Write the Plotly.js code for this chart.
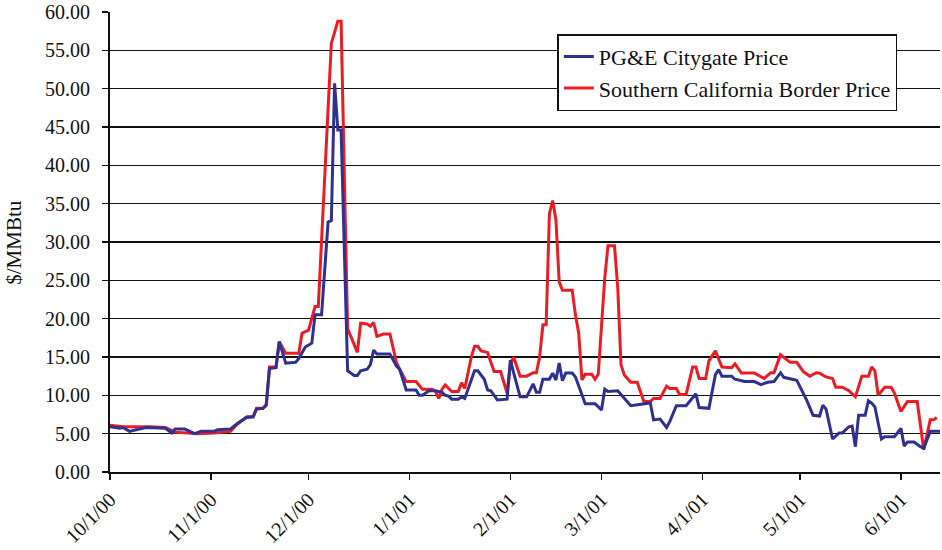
<!DOCTYPE html>
<html>
<head>
<meta charset="utf-8">
<script src="https://cdn.plot.ly/plotly-3.0.1.min.js"></script>
<style>html,body{margin:0;padding:0;background:#fff;}#chart{width:942px;height:550px;}</style>
</head>
<body>
<div id="chart"></div>
<script>
// PG&E Citygate Price ($/MMBtu)
var pgeDates = ['2000-10-01','2000-10-04','2000-10-05','2000-10-07','2000-10-09','2000-10-12','2000-10-18','2000-10-20','2000-10-21','2000-10-24','2000-10-27','2000-10-29','2000-11-02','2000-11-03','2000-11-07','2000-11-09','2000-11-12','2000-11-14','2000-11-15','2000-11-17','2000-11-18','2000-11-19','2000-11-21','2000-11-22','2000-11-24','2000-11-27','2000-11-28','2000-11-30','2000-12-02','2000-12-03','2000-12-05','2000-12-07','2000-12-08','2000-12-09','2000-12-10','2000-12-11','2000-12-13','2000-12-15','2000-12-16','2000-12-17','2000-12-19','2000-12-20','2000-12-21','2000-12-22','2000-12-26','2000-12-28','2000-12-29','2000-12-31','2001-01-03','2001-01-04','2001-01-05','2001-01-07','2001-01-09','2001-01-11','2001-01-12','2001-01-13','2001-01-14','2001-01-16','2001-01-17','2001-01-18','2001-01-21','2001-01-22','2001-01-24','2001-01-25','2001-01-26','2001-01-28','2001-01-31','2001-02-01','2001-02-02','2001-02-04','2001-02-06','2001-02-08','2001-02-09','2001-02-10','2001-02-11','2001-02-13','2001-02-14','2001-02-15','2001-02-16','2001-02-17','2001-02-18','2001-02-20','2001-02-21','2001-02-24','2001-02-27','2001-03-01','2001-03-02','2001-03-03','2001-03-06','2001-03-08','2001-03-10','2001-03-16','2001-03-17','2001-03-19','2001-03-21','2001-03-22','2001-03-24','2001-03-27','2001-03-30','2001-03-31','2001-04-03','2001-04-05','2001-04-06','2001-04-07','2001-04-10','2001-04-11','2001-04-13','2001-04-14','2001-04-17','2001-04-19','2001-04-21','2001-04-23','2001-04-25','2001-04-26','2001-04-30','2001-05-03','2001-05-05','2001-05-07','2001-05-08','2001-05-09','2001-05-11','2001-05-13','2001-05-14','2001-05-16','2001-05-17','2001-05-18','2001-05-19','2001-05-21','2001-05-22','2001-05-23','2001-05-24','2001-05-26','2001-05-27','2001-05-30','2001-06-01','2001-06-02','2001-06-03','2001-06-05','2001-06-07','2001-06-08','2001-06-10','2001-06-13'];
var pgeValues = [5.9,5.7,5.8,5.3,5.5,5.8,5.7,5.1,5.6,5.6,5.0,5.3,5.3,5.5,5.6,6.3,7.1,7.2,8.2,8.3,8.7,13.5,13.6,17.0,14.2,14.3,14.8,16.3,16.8,20.5,20.5,32.6,32.8,50.7,44.6,44.6,13.2,12.6,12.6,13.2,13.4,14.0,15.9,15.4,15.4,13.8,13.4,10.7,10.7,10.0,10.0,10.6,10.6,10.4,10.0,9.9,9.5,9.5,9.8,9.6,13.2,13.2,12.1,10.7,10.6,9.4,9.5,14.6,12.95,9.8,9.8,11.5,10.4,10.4,12.1,12.1,12.9,12.0,14.2,11.9,12.9,12.9,12.4,8.9,8.9,8.1,10.8,10.5,10.6,9.6,8.65,9.0,6.8,6.9,5.8,6.6,8.65,8.65,10.2,8.4,8.3,12.7,13.35,12.5,12.5,12.1,11.95,11.8,11.8,11.4,11.7,11.8,12.95,12.35,11.95,9.4,7.4,7.3,8.7,8.2,4.3,5.1,5.1,5.9,6.0,3.3,7.4,7.4,9.3,9.0,8.5,4.3,4.6,4.6,5.7,3.4,3.9,3.9,3.3,3.1,5.3,5.3];

// Southern California Border Price ($/MMBtu)
var socalDates = ['2000-10-01','2000-10-05','2000-10-13','2000-10-18','2000-10-21','2000-10-28','2000-11-02','2000-11-07','2000-11-09','2000-11-12','2000-11-14','2000-11-15','2000-11-17','2000-11-18','2000-11-19','2000-11-21','2000-11-22','2000-11-24','2000-11-28','2000-11-29','2000-12-01','2000-12-03','2000-12-04','2000-12-08','2000-12-10','2000-12-11','2000-12-13','2000-12-16','2000-12-17','2000-12-19','2000-12-20','2000-12-21','2000-12-22','2000-12-24','2000-12-26','2000-12-28','2000-12-29','2000-12-31','2001-01-03','2001-01-05','2001-01-08','2001-01-09','2001-01-10','2001-01-11','2001-01-12','2001-01-14','2001-01-16','2001-01-17','2001-01-18','2001-01-20','2001-01-21','2001-01-22','2001-01-23','2001-01-25','2001-01-27','2001-01-29','2001-01-31','2001-02-01','2001-02-02','2001-02-04','2001-02-06','2001-02-08','2001-02-09','2001-02-10','2001-02-11','2001-02-12','2001-02-13','2001-02-14','2001-02-15','2001-02-16','2001-02-17','2001-02-20','2001-02-21','2001-02-22','2001-02-23','2001-02-24','2001-02-26','2001-02-27','2001-02-28','2001-03-02','2001-03-03','2001-03-05','2001-03-06','2001-03-07','2001-03-08','2001-03-10','2001-03-12','2001-03-14','2001-03-16','2001-03-17','2001-03-19','2001-03-21','2001-03-22','2001-03-24','2001-03-25','2001-03-27','2001-03-29','2001-03-30','2001-03-31','2001-04-02','2001-04-03','2001-04-05','2001-04-07','2001-04-10','2001-04-11','2001-04-13','2001-04-17','2001-04-20','2001-04-22','2001-04-23','2001-04-25','2001-04-28','2001-04-30','2001-05-02','2001-05-04','2001-05-06','2001-05-07','2001-05-09','2001-05-11','2001-05-12','2001-05-14','2001-05-16','2001-05-18','2001-05-20','2001-05-22','2001-05-23','2001-05-24','2001-05-25','2001-05-27','2001-05-29','2001-05-30','2001-06-01','2001-06-03','2001-06-06','2001-06-08','2001-06-10','2001-06-11','2001-06-12'];
var socalValues = [6.1,5.9,5.9,5.8,5.2,5.0,5.1,5.3,6.2,7.2,7.2,8.3,8.3,8.8,13.7,13.7,17.0,15.5,15.5,18.1,18.5,21.6,21.6,55.9,58.8,58.8,18.7,15.6,19.4,19.3,19.0,19.5,17.7,18.0,18.0,14.3,13.4,11.8,11.8,10.8,10.8,10.5,9.6,10.8,11.35,10.5,10.5,11.65,10.9,15.0,16.4,16.4,15.8,15.6,13.1,13.1,10.3,14.0,15.0,12.5,12.5,12.95,12.95,15.0,19.2,19.2,33.7,35.4,32.9,24.8,23.7,23.7,20.5,18.1,12.0,12.75,12.75,12.1,12.75,25.3,29.5,29.5,24.0,14.0,12.65,11.7,11.7,9.2,9.2,9.6,9.6,11.2,10.9,10.9,10.1,10.1,13.7,13.7,12.2,12.2,14.5,15.8,13.7,13.6,14.1,12.9,12.9,12.2,12.95,12.95,15.3,14.3,14.3,13.1,12.5,12.95,12.9,12.4,12.2,11.05,11.05,10.6,9.8,12.5,12.5,13.7,13.2,10.0,11.05,11.05,10.3,7.9,9.2,9.2,2.9,6.8,6.8,7.1];

var seriesNames = ['PG&E Citygate Price', 'Southern California Border Price'];
var yTitle = '$/MMBtu';

var serif = 'Liberation Serif, Times New Roman, serif';

var traces = [
  {x: socalDates, y: socalValues, name: seriesNames[1], type: 'scatter', mode: 'lines',
   line: {color: '#ED1C24', width: 3}},
  {x: pgeDates, y: pgeValues, name: seriesNames[0], type: 'scatter', mode: 'lines',
   line: {color: '#2E3192', width: 3}}
];

var layout = {
  width: 942, height: 550,
  margin: {l: 110, r: 2, t: 12, b: 78},
  paper_bgcolor: '#fff', plot_bgcolor: '#fff',
  font: {family: serif, size: 20, color: '#111'},
  showlegend: true,
  legend: {
    x: 0.539, y: 0.952, xanchor: 'left', yanchor: 'top',
    bgcolor: '#fff', bordercolor: '#111', borderwidth: 1.5,
    font: {family: serif, size: 22, color: '#111'},
    traceorder: 'reversed', tracegroupgap: 0,
    itemwidth: 30
  },
  xaxis: {
    type: 'date',
    range: ['2000-10-01', '2001-06-13'],
    tick0: '2000-10-01', dtick: 'M1',
    tickformat: '%-m/%-d/%y',
    tickangle: -45,
    ticks: 'outside', ticklen: 6, tickwidth: 1.5, tickcolor: '#111',
    showline: true, linecolor: '#111', linewidth: 2,
    showgrid: false, zeroline: false,
    tickfont: {family: serif, size: 20, color: '#111'}
  },
  yaxis: {
    range: [0, 60], dtick: 5, tick0: 0,
    tickformat: '.2f',
    ticks: 'outside', ticklen: 6, tickwidth: 1.5, tickcolor: '#111',
    ticklabelstandoff: 8,
    showline: true, linecolor: '#111', linewidth: 2,
    showgrid: true, gridcolor: '#111', gridwidth: 1.5,
    zeroline: false,
    tickfont: {family: serif, size: 20, color: '#111'}
  },
  annotations: [{
    text: yTitle, xref: 'paper', yref: 'paper',
    x: -0.116, y: 0.5, xanchor: 'center', yanchor: 'middle',
    textangle: -90, showarrow: false,
    font: {family: serif, size: 21, color: '#111'}
  }]
};

Plotly.newPlot('chart', traces, layout, {displayModeBar: false, staticPlot: true});
</script>
</body>
</html>
